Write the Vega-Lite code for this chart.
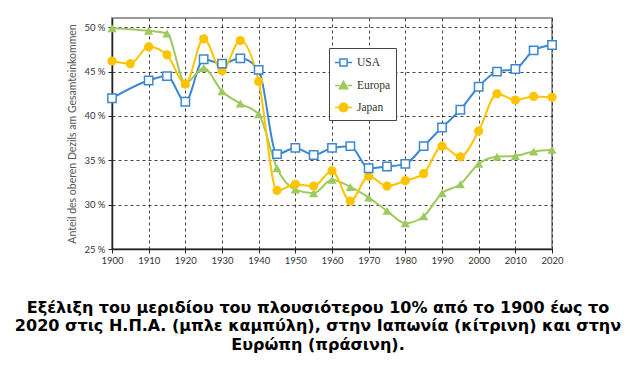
{
  "$schema": "https://vega.github.io/schema/vega-lite/v6.json",
  "autosize": "none",
  "width": 440,
  "height": 231,
  "padding": {"left": 112, "top": 18, "right": 82, "bottom": 117},
  "background": "white",
  "title": {
    "text": ["Εξέλιξη του μεριδίου του πλουσιότερου 10% από το 1900 έως το", "2020 στις Η.Π.Α. (μπλε καμπύλη), στην Ιαπωνία (κίτρινη) και στην", "Ευρώπη (πράσινη)."],
    "orient": "bottom",
    "anchor": "middle",
    "frame": "group",
    "dx": -14,
    "offset": 35,
    "font": "DejaVu Sans",
    "fontSize": 16,
    "fontWeight": "bold",
    "color": "#000000",
    "lineHeight": 18.5,
    "baseline": "top"
  },
  "config": {
    "view": {"stroke": "#9a9a9a", "strokeWidth": 2},
    "axis": {
      "labelFont": "Lato",
      "labelFontSize": 9.5,
      "labelColor": "#333333",
      "titleFont": "Lato",
      "titleFontWeight": "normal",
      "titleColor": "#555555",
      "titleFontSize": 10.5,
      "domainColor": "#222222",
      "domainWidth": 1.5,
      "tickColor": "#222222",
      "tickSize": 4,
      "gridColor": "#222222",
      "gridDash": [3, 3],
      "gridWidth": 1,
      "gridOpacity": 0.85,
      "labelFlush": false
    }
  },
  "datasets": {
    "shares": [
      {"year": 1900, "series": "USA", "value": 42.0},
      {"year": 1910, "series": "USA", "value": 44.0},
      {"year": 1915, "series": "USA", "value": 44.5},
      {"year": 1920, "series": "USA", "value": 41.6},
      {"year": 1925, "series": "USA", "value": 46.4},
      {"year": 1930, "series": "USA", "value": 45.9},
      {"year": 1935, "series": "USA", "value": 46.5},
      {"year": 1940, "series": "USA", "value": 45.2},
      {"year": 1945, "series": "USA", "value": 35.7},
      {"year": 1950, "series": "USA", "value": 36.4},
      {"year": 1955, "series": "USA", "value": 35.6},
      {"year": 1960, "series": "USA", "value": 36.4},
      {"year": 1965, "series": "USA", "value": 36.6},
      {"year": 1970, "series": "USA", "value": 34.1},
      {"year": 1975, "series": "USA", "value": 34.3},
      {"year": 1980, "series": "USA", "value": 34.6},
      {"year": 1985, "series": "USA", "value": 36.6},
      {"year": 1990, "series": "USA", "value": 38.7},
      {"year": 1995, "series": "USA", "value": 40.7},
      {"year": 2000, "series": "USA", "value": 43.3},
      {"year": 2005, "series": "USA", "value": 45.0},
      {"year": 2010, "series": "USA", "value": 45.3},
      {"year": 2015, "series": "USA", "value": 47.4},
      {"year": 2020, "series": "USA", "value": 48.0},
      {"year": 1900, "series": "Europa", "value": 49.9},
      {"year": 1910, "series": "Europa", "value": 49.6},
      {"year": 1915, "series": "Europa", "value": 49.3},
      {"year": 1920, "series": "Europa", "value": 43.7},
      {"year": 1925, "series": "Europa", "value": 45.4},
      {"year": 1930, "series": "Europa", "value": 42.8},
      {"year": 1935, "series": "Europa", "value": 41.4},
      {"year": 1940, "series": "Europa", "value": 40.2},
      {"year": 1945, "series": "Europa", "value": 34.1},
      {"year": 1950, "series": "Europa", "value": 31.7},
      {"year": 1955, "series": "Europa", "value": 31.3},
      {"year": 1960, "series": "Europa", "value": 32.8},
      {"year": 1965, "series": "Europa", "value": 32.0},
      {"year": 1970, "series": "Europa", "value": 30.8},
      {"year": 1975, "series": "Europa", "value": 29.3},
      {"year": 1980, "series": "Europa", "value": 27.9},
      {"year": 1985, "series": "Europa", "value": 28.7},
      {"year": 1990, "series": "Europa", "value": 31.3},
      {"year": 1995, "series": "Europa", "value": 32.3},
      {"year": 2000, "series": "Europa", "value": 34.6},
      {"year": 2005, "series": "Europa", "value": 35.4},
      {"year": 2010, "series": "Europa", "value": 35.5},
      {"year": 2015, "series": "Europa", "value": 36.0},
      {"year": 2020, "series": "Europa", "value": 36.2},
      {"year": 1900, "series": "Japan", "value": 46.2},
      {"year": 1905, "series": "Japan", "value": 45.9},
      {"year": 1910, "series": "Japan", "value": 47.8},
      {"year": 1915, "series": "Japan", "value": 46.9},
      {"year": 1920, "series": "Japan", "value": 43.6},
      {"year": 1925, "series": "Japan", "value": 48.7},
      {"year": 1930, "series": "Japan", "value": 45.1},
      {"year": 1935, "series": "Japan", "value": 48.5},
      {"year": 1940, "series": "Japan", "value": 43.9},
      {"year": 1945, "series": "Japan", "value": 31.6},
      {"year": 1950, "series": "Japan", "value": 32.3},
      {"year": 1955, "series": "Japan", "value": 32.1},
      {"year": 1960, "series": "Japan", "value": 33.8},
      {"year": 1965, "series": "Japan", "value": 30.4},
      {"year": 1970, "series": "Japan", "value": 33.2},
      {"year": 1975, "series": "Japan", "value": 32.1},
      {"year": 1980, "series": "Japan", "value": 32.7},
      {"year": 1985, "series": "Japan", "value": 33.5},
      {"year": 1990, "series": "Japan", "value": 36.6},
      {"year": 1995, "series": "Japan", "value": 35.4},
      {"year": 2000, "series": "Japan", "value": 38.3},
      {"year": 2005, "series": "Japan", "value": 42.5},
      {"year": 2010, "series": "Japan", "value": 41.8},
      {"year": 2015, "series": "Japan", "value": 42.2},
      {"year": 2020, "series": "Japan", "value": 42.1}
    ]
  },
  "data": {"name": "shares"},
  "encoding": {
    "x": {
      "field": "year",
      "type": "quantitative",
      "scale": {"domain": [1900, 2020], "nice": false, "zero": false},
      "axis": {
        "title": null,
        "values": [1900, 1910, 1920, 1930, 1940, 1950, 1960, 1970, 1980, 1990, 2000, 2010, 2020],
        "format": "d",
        "labelPadding": 2
      }
    },
    "y": {
      "field": "value",
      "type": "quantitative",
      "scale": {"domain": [25, 51.05], "nice": false, "zero": false},
      "axis": {
        "title": "Anteil des oberen Dezils am Gesamteinkommen",
        "values": [25, 30, 35, 40, 45, 50],
        "labelExpr": "datum.value + ' %'",
        "titlePadding": 6,
        "labelPadding": 3
      }
    }
  },
  "layer": [
    {
      "mark": {"type": "line", "interpolate": "monotone", "strokeWidth": 2},
      "encoding": {
        "color": {
          "field": "series",
          "type": "nominal",
          "sort": ["USA", "Europa", "Japan"],
          "scale": {"domain": ["USA", "Europa", "Japan"], "range": ["#3d87d0", "#9dc95f", "#fcc400"]},
          "legend": {
            "title": null,
            "orient": "none",
            "legendX": 217,
            "legendY": 30,
            "direction": "vertical",
            "padding": 5,
            "strokeColor": "#444444",
            "fillColor": "white",
            "rowPadding": 6,
            "labelFont": "Liberation Serif",
            "labelFontSize": 11.5,
            "labelColor": "#333333",
            "labelOffset": 4,
            "symbolSize": 289,
            "symbolStrokeWidth": 1.5,
            "symbolType": "M-1,0H1",
            "encode": {
              "symbols": {
                "update": {
                  "shape": {"signal": "datum.value === 'USA' ? 'M-1,0H-0.42M0.42,0H1M-0.42,-0.42H0.42V0.42H-0.42Z' : datum.value === 'Europa' ? 'M-1,0H-0.45M0.45,0H1M0,-0.5L0.5,0.38H-0.5Z' : 'M-1,0H-0.5M0.5,0H1M0.5,0A0.5,0.5,0,1,1,-0.5,0A0.5,0.5,0,1,1,0.5,0Z'"},
                  "fill": {"signal": "datum.value === 'USA' ? '#ffffff' : scale('color', datum.value)"},
                  "fillOpacity": {"value": 1},
                  "stroke": {"signal": "scale('color', datum.value)"},
                  "strokeWidth": {"value": 1.5}
                }
              }
            }
          }
        }
      }
    },
    {
      "transform": [{"filter": "datum.series === 'Europa'"}],
      "mark": {"type": "point", "shape": "triangle-up", "filled": true, "size": 85, "opacity": 1, "color": "#9dc95f"}
    },
    {
      "transform": [{"filter": "datum.series === 'Japan'"}],
      "mark": {"type": "point", "shape": "circle", "filled": true, "size": 85, "opacity": 1, "color": "#fcc400"}
    },
    {
      "transform": [{"filter": "datum.series === 'USA'"}],
      "mark": {"type": "point", "shape": "square", "filled": false, "fill": "white", "fillOpacity": 1, "size": 70, "strokeWidth": 1.5, "opacity": 1, "stroke": "#3d87d0"}
    }
  ]
}
